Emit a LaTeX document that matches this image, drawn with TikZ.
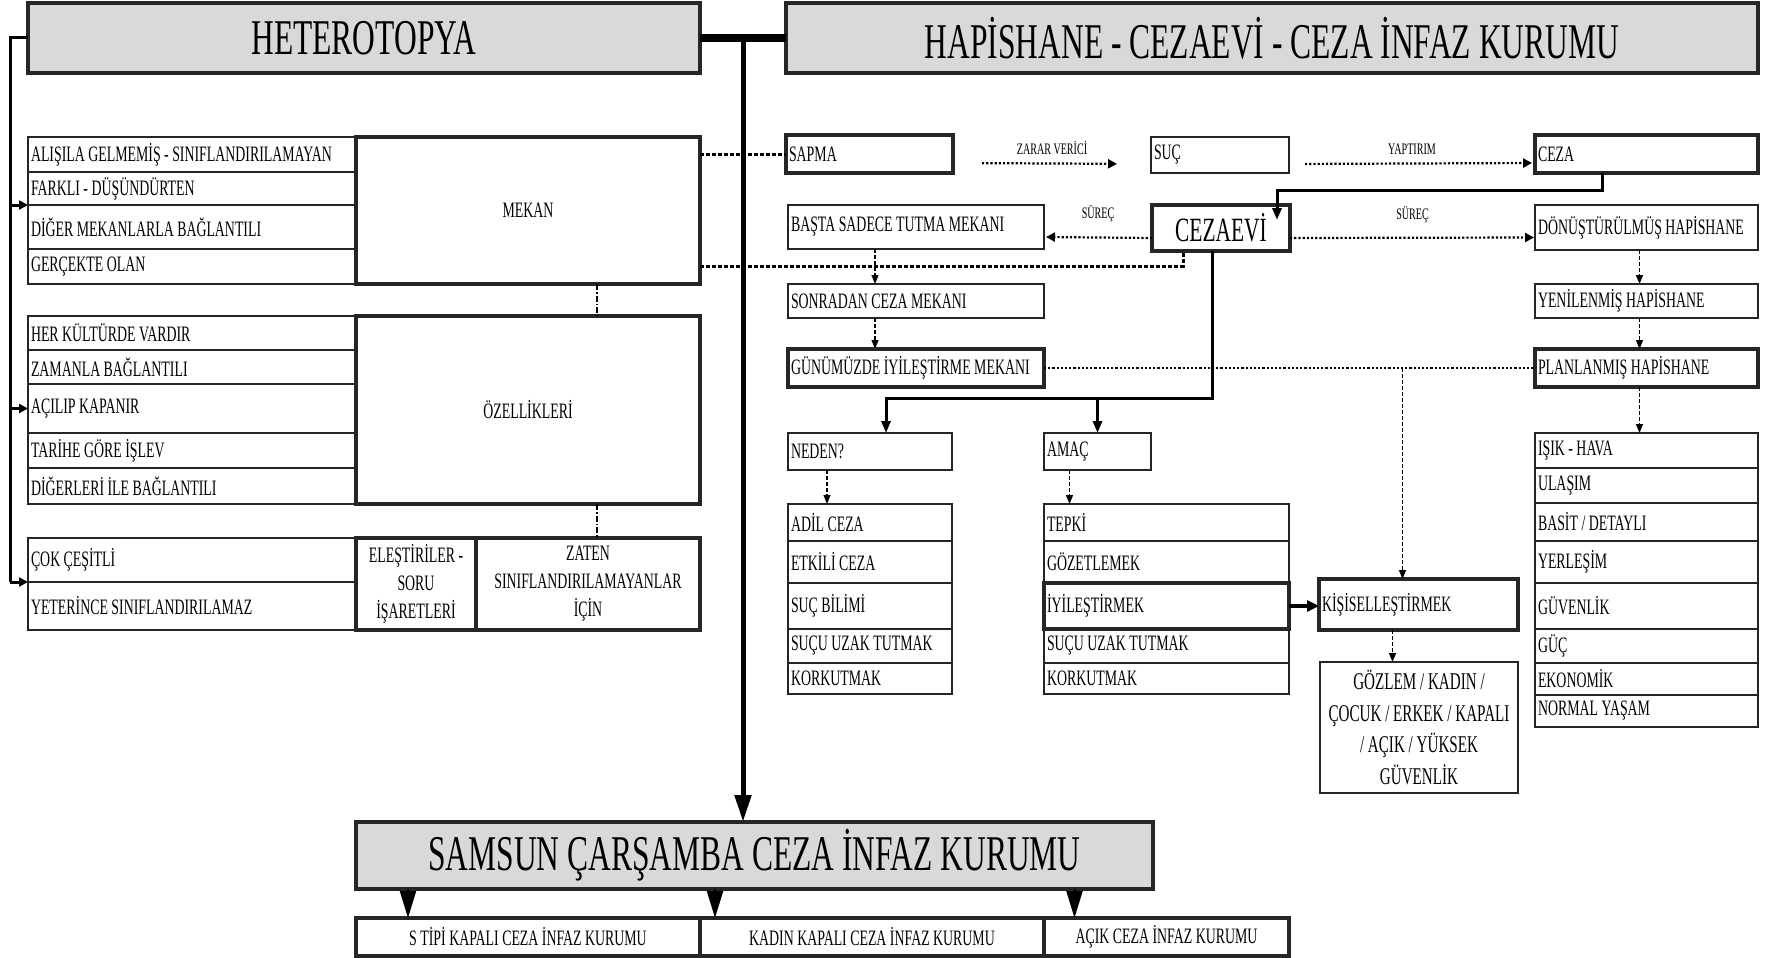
\documentclass[tikz,border=0pt]{standalone}
\usepackage{fontspec}
\setmainfont{Liberation Serif}[FakeStretch=0.63]
\usetikzlibrary{arrows.meta}
\definecolor{titlegray}{HTML}{D9D9D9}

\tikzset{
  cellbox/.style={draw=black!85, line width=1.5pt, anchor=north west, inner sep=3pt, outer sep=0pt, font=\fontsize{22}{25}\selectfont},
  rowbox/.style={cellbox, align=flush left, text width=#1},
  midbox/.style 2 args={cellbox, align=center, minimum width=#1, minimum height=#2},
  heavy/.style={line width=4.5pt},
  title/.style={heavy, fill=titlegray, font=\fontsize{50}{56}\selectfont},
  lbl/.style={font=\fontsize{16}{18}\selectfont, inner sep=1pt},
  spine/.style={line width=3pt},
  spinearrow/.style={line width=3pt, -{Triangle[length=9pt,width=9pt]}},
  mainline/.style={line width=8pt},
  mainarrow/.style={line width=5pt, -{Triangle[length=27pt,width=16pt]}},
  solidarrow/.style={line width=3pt, -{Triangle[length=12pt,width=9pt]}},
  dotarrow/.style={line width=2.2pt, dotted, -{Triangle[length=9pt,width=9pt]}},
  dotline/.style={line width=2.2pt, dotted},
  heavydash/.style={line width=3pt, dash pattern=on 4pt off 2pt},
  dasharrow/.style={line width=1.3pt, dash pattern=on 4pt off 2pt, -{Triangle[length=9pt,width=7pt]}},
  dashdot/.style={line width=1.3pt, dash pattern=on 6pt off 2pt on 1.5pt off 2pt},
}

\begin{document}
\begin{tikzpicture}[x=1pt, y=-1pt]
\useasboundingbox (0,0) rectangle (1780,958);

% titles
\node[midbox={672pt}{70pt}, title] (hetero) at (28,3) {HETEROTOPYA};
\node[midbox={972pt}{70pt}, title] (hapis) at (786,3) {HAPİSHANE - CEZAEVİ - CEZA İNFAZ KURUMU};

% heterotopya: mekan
\node[rowbox=322pt, minimum height=35pt] (alisila) at (28,137) {ALIŞILA GELMEMİŞ - SINIFLANDIRILAMAYAN};
\node[rowbox=322pt, minimum height=33pt] (farkli) at (28,172) {FARKLI - DÜŞÜNDÜRTEN};
\node[rowbox=322pt, minimum height=44pt] (diger) at (28,205) {DİĞER MEKANLARLA BAĞLANTILI};
\node[rowbox=322pt, minimum height=35pt] (gercekte) at (28,249) {GERÇEKTE OLAN};
\node[midbox={344pt}{147pt}, heavy] (mekan) at (356,137) {MEKAN};

% heterotopya: ozellikleri
\node[rowbox=322pt, minimum height=34pt] (herkultur) at (28,316) {HER KÜLTÜRDE VARDIR};
\node[rowbox=322pt, minimum height=34pt] (zamanla) at (28,350) {ZAMANLA BAĞLANTILI};
\node[rowbox=322pt, minimum height=49pt] (acilip) at (28,384) {AÇILIP KAPANIR};
\node[rowbox=322pt, minimum height=35pt] (tarihe) at (28,433) {TARİHE GÖRE İŞLEV};
\node[rowbox=322pt, minimum height=36pt] (digerleri) at (28,468) {DİĞERLERİ İLE BAĞLANTILI};
\node[midbox={344pt}{188pt}, heavy] (ozellik) at (356,316) {ÖZELLİKLERİ};

% heterotopya: elestiriler
\node[rowbox=322pt, minimum height=44pt] (cok) at (28,538) {ÇOK ÇEŞİTLİ};
\node[rowbox=322pt, minimum height=48pt] (yeterince) at (28,582) {YETERİNCE SINIFLANDIRILAMAZ};
\node[midbox={120pt}{92pt}, heavy, font=\fontsize{22}{28}\selectfont] (elestiri) at (356,538) {ELEŞTİRİLER -\\SORU\\İŞARETLERİ};
\node[midbox={224pt}{92pt}, heavy, font=\fontsize{22}{28}\selectfont] (zaten) at (476,538) {ZATEN\\SINIFLANDIRILAMAYANLAR\\İÇİN};

% hapishane: top rows
\node[rowbox=161pt, minimum height=38pt, heavy] (sapma) at (786,135) {SAPMA};
\node[rowbox=132pt, minimum height=36pt] (suc) at (1151,137) {SUÇ};
\node[rowbox=217pt, minimum height=38pt, heavy] (ceza) at (1535,135) {CEZA};
\node[rowbox=250pt, minimum height=44pt] (basta) at (788,205) {BAŞTA SADECE TUTMA MEKANI};
\node[midbox={138pt}{46pt}, heavy, font=\fontsize{34}{38}\selectfont] (cezaevi) at (1152,205) {CEZAEVİ};
\node[rowbox=217pt, minimum height=45pt] (donus) at (1535,205) {DÖNÜŞTÜRÜLMÜŞ HAPİSHANE};
\node[rowbox=250pt, minimum height=34pt] (sonradan) at (788,284) {SONRADAN CEZA MEKANI};
\node[rowbox=217pt, minimum height=34pt] (yeni) at (1535,284) {YENİLENMİŞ HAPİSHANE};
\node[rowbox=250pt, minimum height=38pt, heavy] (gunumuz) at (788,349) {GÜNÜMÜZDE İYİLEŞTİRME MEKANI};
\node[rowbox=217pt, minimum height=38pt, heavy] (planli) at (1535,349) {PLANLANMIŞ HAPİSHANE};

% hapishane: neden
\node[rowbox=158pt, minimum height=37pt] (neden) at (788,433) {NEDEN?};
\node[rowbox=158pt, minimum height=37pt] (adil) at (788,504) {ADİL CEZA};
\node[rowbox=158pt, minimum height=42pt] (etkili) at (788,541) {ETKİLİ CEZA};
\node[rowbox=158pt, minimum height=46pt] (sucbilim) at (788,583) {SUÇ BİLİMİ};
\node[rowbox=158pt, minimum height=34pt] (uzakA) at (788,629) {SUÇU UZAK TUTMAK};
\node[rowbox=158pt, minimum height=31pt] (korkutA) at (788,663) {KORKUTMAK};

% hapishane: amac
\node[rowbox=101pt, minimum height=37pt] (amac) at (1044,433) {AMAÇ};
\node[rowbox=239pt, minimum height=37pt] (tepki) at (1044,504) {TEPKİ};
\node[rowbox=239pt, minimum height=42pt] (gozetle) at (1044,541) {GÖZETLEMEK};
\node[rowbox=239pt, minimum height=46pt, heavy] (iyiles) at (1044,583) {İYİLEŞTİRMEK};
\node[rowbox=239pt, minimum height=34pt] (uzakB) at (1044,629) {SUÇU UZAK TUTMAK};
\node[rowbox=239pt, minimum height=31pt] (korkutB) at (1044,663) {KORKUTMAK};
\node[rowbox=193pt, minimum height=51pt, heavy] (kisisel) at (1319,579) {KİŞİSELLEŞTİRMEK};
\node[midbox={198pt}{131pt}, font=\fontsize{24}{31.5}\selectfont] (gozlem) at (1320,662) {GÖZLEM / KADIN /\\ÇOCUK / ERKEK / KAPALI\\/ AÇIK / YÜKSEK\\GÜVENLİK};

% hapishane: planlanmis
\node[rowbox=217pt, minimum height=35pt] (isik) at (1535,433) {IŞIK - HAVA};
\node[rowbox=217pt, minimum height=35pt] (ulasim) at (1535,468) {ULAŞIM};
\node[rowbox=217pt, minimum height=38pt] (basit) at (1535,503) {BASİT / DETAYLI};
\node[rowbox=217pt, minimum height=42pt] (yerlesim) at (1535,541) {YERLEŞİM};
\node[rowbox=217pt, minimum height=46pt] (guvenlik) at (1535,583) {GÜVENLİK};
\node[rowbox=217pt, minimum height=34pt] (guc) at (1535,629) {GÜÇ};
\node[rowbox=217pt, minimum height=32pt] (ekonomik) at (1535,663) {EKONOMİK};
\node[rowbox=217pt, minimum height=32pt] (normal) at (1535,695) {NORMAL YAŞAM};

% samsun
\node[midbox={797pt}{67pt}, title] (samsun) at (356,822) {SAMSUN ÇARŞAMBA CEZA İNFAZ KURUMU};
\node[midbox={344pt}{38pt}, heavy, font=\fontsize{22}{24}\selectfont] (stipi) at (356,918) {S TİPİ KAPALI CEZA İNFAZ KURUMU};
\node[midbox={344pt}{38pt}, heavy, font=\fontsize{22}{24}\selectfont] (kadin) at (700,918) {KADIN KAPALI CEZA İNFAZ KURUMU};
\node[midbox={245pt}{38pt}, heavy, font=\fontsize{22}{24}\selectfont] (acik) at (1044,918) {AÇIK CEZA İNFAZ KURUMU};

% left spine
\draw[spine] (hetero.west) -- ++(-18,0) coordinate (spinetop) -- (spinetop |- yeterince.north);
\draw[spinearrow] (spinetop |- diger.north west) -- (diger.north west);
\draw[spinearrow] (spinetop |- acilip.west) -- (acilip.west);
\draw[spinearrow] (spinetop |- yeterince.north west) -- (yeterince.north west);

% trunk
\draw[mainline] (hetero.east) -- (hapis.west);
\coordinate (trunk) at (743,38);
\draw[mainarrow] (trunk) -- (trunk |- samsun.north);

% heterotopya links
\coordinate (hc) at ([xshift=69pt]mekan.south);
\draw[dashdot] (hc) -- (hc |- ozellik.north);
\draw[dashdot] (hc |- ozellik.south) -- (hc |- zaten.north);
\draw[heavydash] (mekan.east |- sapma.west) -- (sapma.west);
\draw[heavydash] ([yshift=18pt]mekan.south east) -| ([xshift=-38pt]cezaevi.south);

% sapma - suc - ceza
\draw[dotarrow, shorten <=29pt, shorten >=34pt] ([yshift=-9pt]sapma.east) -- ([yshift=-9pt]suc.west) node[midway, above=7pt, lbl] {ZARAR VERİCİ};
\draw[dotarrow, shorten <=16pt, shorten >=3pt] ([yshift=-9pt]suc.east) -- ([yshift=-9pt]ceza.west) node[midway, above=7pt, lbl] {YAPTIRIM};
\draw[solidarrow] ([xshift=-44pt]ceza.south) -- ++(0,17) -| ([xshift=56pt,yshift=-15pt]cezaevi.north);

% surec
\draw[dotarrow, shorten >=2pt] ([yshift=-10pt]cezaevi.west) -- ([yshift=-10pt]basta.east) node[midway, above=13pt, lbl] {SÜREÇ};
\draw[dotarrow, shorten >=1pt] ([yshift=-10pt]cezaevi.east) -- ([yshift=-10pt]donus.west) node[midway, above=13pt, lbl] {SÜREÇ};

% columns
\coordinate (lc) at ([xshift=-41pt]basta.south);
\draw[dasharrow] (lc) -- (lc |- sonradan.north);
\draw[dasharrow] (lc |- sonradan.south) -- (lc |- gunumuz.north);
\coordinate (rc) at ([xshift=-7pt]donus.south);
\draw[dasharrow] (rc) -- (rc |- yeni.north);
\draw[dasharrow] (rc |- yeni.south) -- (rc |- planli.north);
\draw[dasharrow] (rc |- planli.south) -- (rc |- isik.north);

% iyilestirme line
\draw[dotline] (gunumuz.east) -- (planli.west);
\coordinate (kc) at ([xshift=-16pt]kisisel.north);
\draw[dasharrow] (kc |- gunumuz.east) -- (kc);
\coordinate (gc) at ([xshift=-26pt]kisisel.south);
\draw[dasharrow] (gc) -- (gc |- gozlem.north);
\draw[line width=4pt, -{Triangle[length=12pt,width=11pt]}] (iyiles.east) -- (iyiles.east -| kisisel.west);

% cezaevi down
\draw[solidarrow] ([xshift=-9pt]cezaevi.south) -- ++(0,147) coordinate (split) -| ([xshift=16pt]neden.north);
\draw[solidarrow] (split -| amac.north) -- (amac.north);
\coordinate (nc) at ([xshift=-43pt]neden.south);
\draw[dasharrow] (nc) -- (nc |- adil.north);
\coordinate (ac) at ([xshift=-28pt]amac.south);
\draw[dasharrow] (ac) -- (ac |- tepki.north);

% samsun branches
\coordinate (s1) at ([xshift=-120pt]stipi.north);
\coordinate (s2) at ([xshift=-157pt]kadin.north);
\coordinate (s3) at ([xshift=-92pt]acik.north);
\draw[mainarrow, line width=2pt] (s1 |- samsun.south) -- (s1);
\draw[mainarrow, line width=2pt] (s2 |- samsun.south) -- (s2);
\draw[mainarrow, line width=2pt] (s3 |- samsun.south) -- (s3);
\end{tikzpicture}
\end{document}
